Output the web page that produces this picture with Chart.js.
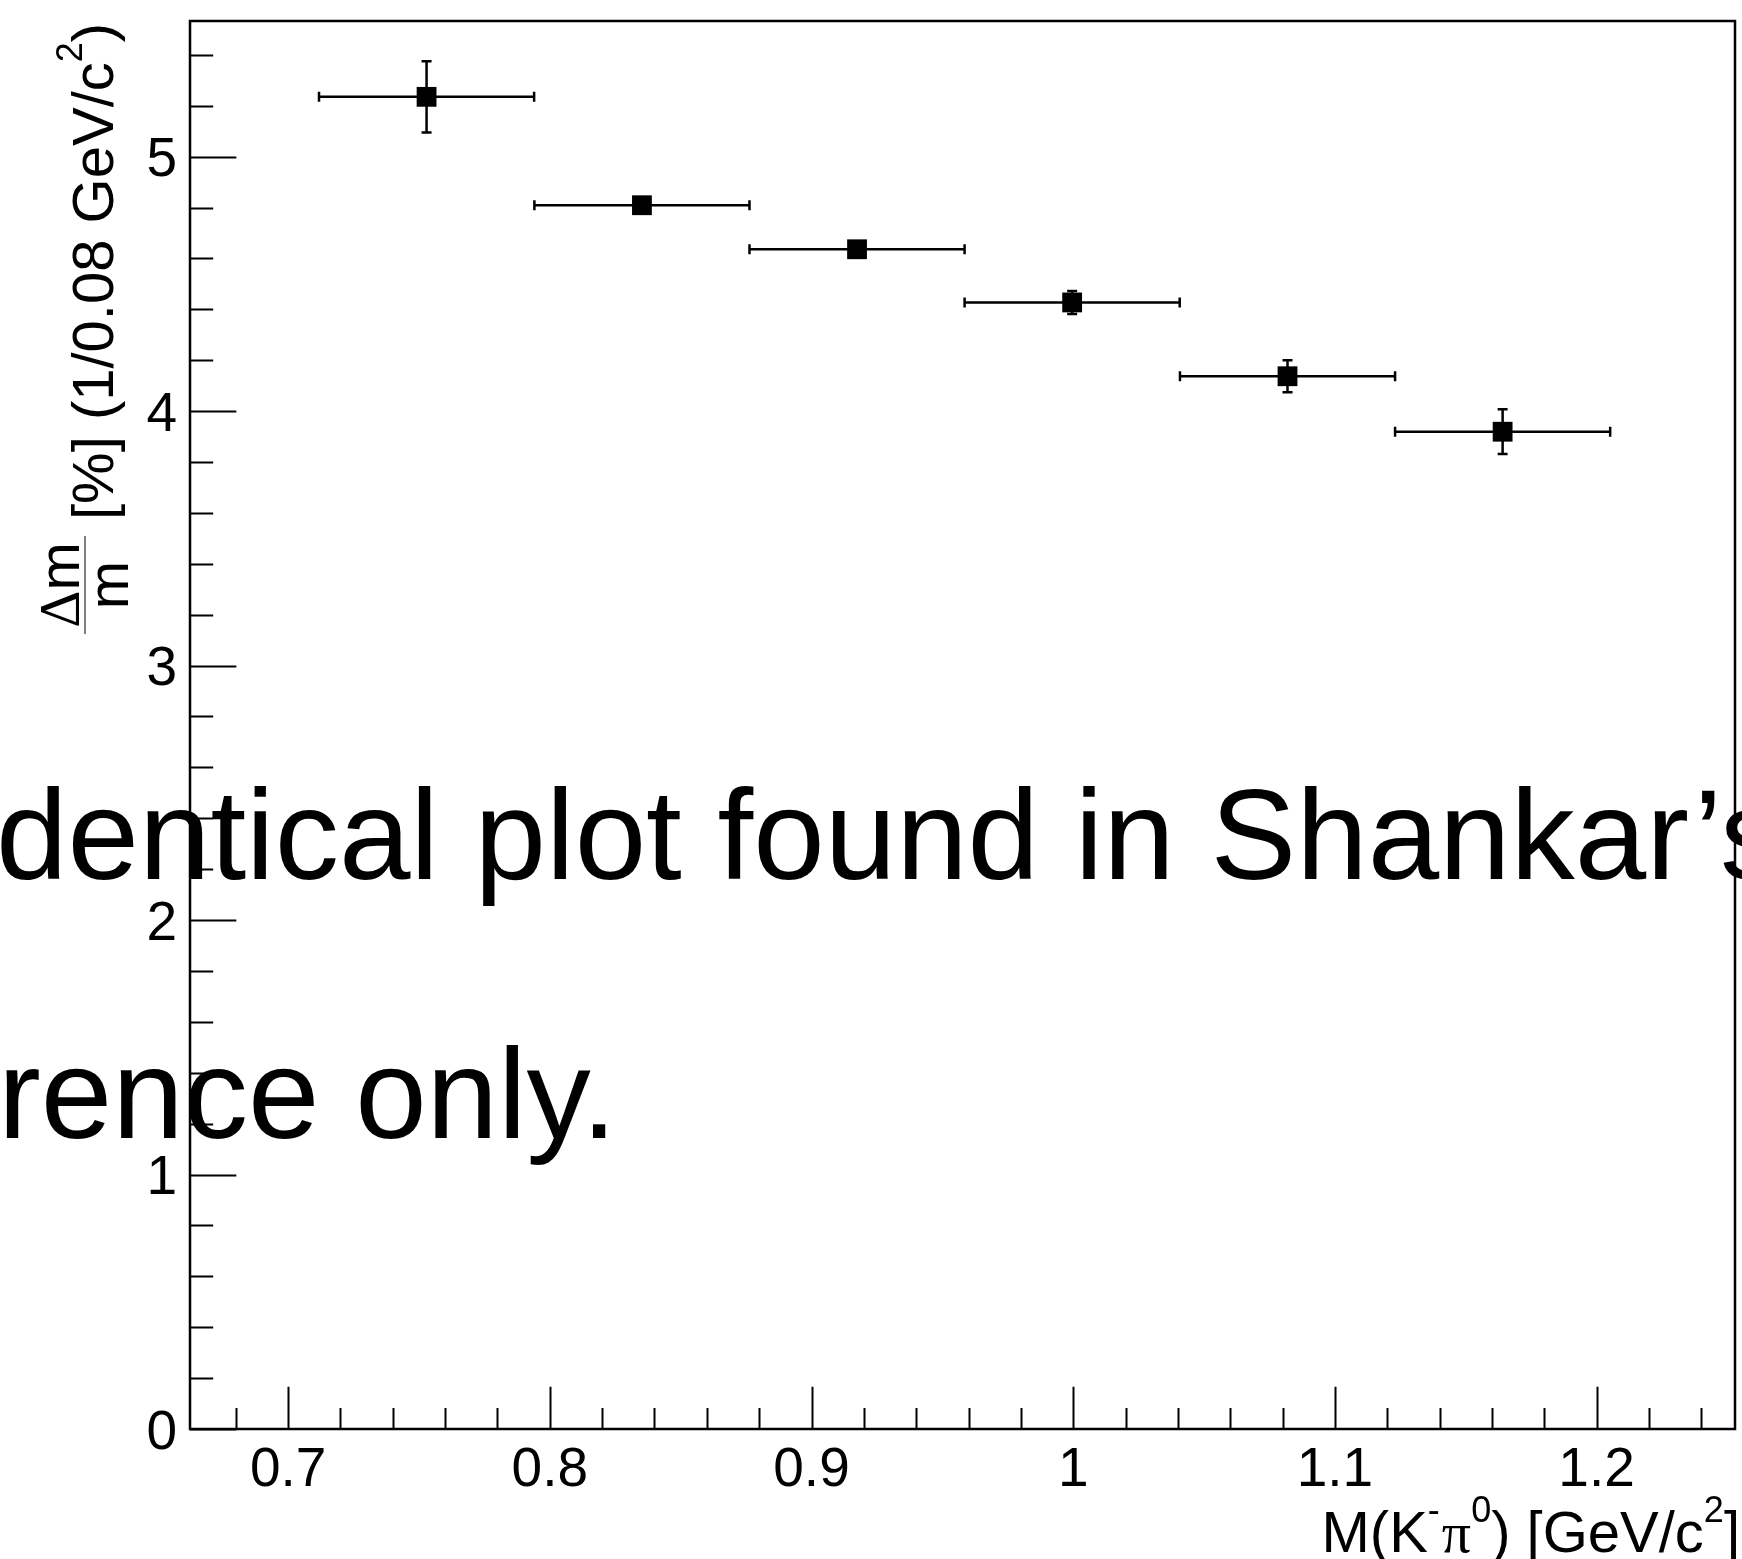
<!DOCTYPE html>
<html>
<head>
<meta charset="utf-8">
<script src="https://cdn.jsdelivr.net/npm/chart.js@4/dist/chart.umd.min.js"></script>
<style>
  html, body { margin: 0; padding: 0; background: #ffffff; }
  #wrap { width: 1742px; height: 1559px; position: relative; }
</style>
</head>
<body>
<div id="wrap"><canvas id="c" width="1742" height="1559"></canvas></div>
<script>
// Mass resolution per M(K- pi0) bin
const massCenters     = [0.7529, 0.8352, 0.9174, 0.9996, 1.0819, 1.1641];
const massHalfWidths  = [0.0411, 0.0411, 0.0411, 0.0411, 0.0411, 0.0411];
const resolution      = [5.235, 4.809, 4.636, 4.427, 4.137, 3.919];
const resolutionErrs  = [0.140, 0.025, 0.025, 0.045, 0.063, 0.088];

// Axis ranges and tick labels
const xRange = [0.6625, 1.2529];
const yRange = [0, 5.533];
const xMajorTicks = [0.7, 0.8, 0.9, 1.0, 1.1, 1.2];
const xTickLabels = ['0.7', '0.8', '0.9', '1', '1.1', '1.2'];
const yMajorTicks = [0, 1, 2, 3, 4, 5];
const yTickLabels = ['0', '1', '2', '3', '4', '5'];
const xMinorStep = 0.02;
const yMinorStep = 0.2;

// Watermark lines
const noteLines = ['dentical plot found in Shankar\u2019s', 'rence only.'];

const SANS = '"Liberation Sans", Arial, Helvetica, sans-serif';
const SERIF = '"Liberation Serif", "Times New Roman", serif';
const LABEL_PX = 55;
const TITLE_PX = 58;
const SUP_PX = 36;

function drawRich(ctx, parts, x, y) {
  let cx = x;
  for (const p of parts) {
    ctx.font = p.font;
    ctx.fillText(p.text, cx, y + (p.dy || 0));
    cx += ctx.measureText(p.text).width + (p.kern || 0);
  }
  return cx;
}
function richWidth(ctx, parts) {
  let w = 0;
  for (const p of parts) {
    ctx.font = p.font;
    w += ctx.measureText(p.text).width + (p.kern || 0);
  }
  return w;
}

// Error bars drawn beneath the markers
const errorBars = {
  id: 'errorBars',
  beforeDatasetsDraw(chart) {
    const { ctx, scales: { x, y } } = chart;
    ctx.save();
    ctx.strokeStyle = '#000';
    ctx.lineWidth = 2.5;
    const cap = 5;
    massCenters.forEach((m, i) => {
      const px = x.getPixelForValue(m);
      const py = y.getPixelForValue(resolution[i]);
      const x0 = x.getPixelForValue(m - massHalfWidths[i]);
      const x1 = x.getPixelForValue(m + massHalfWidths[i]);
      const y0 = y.getPixelForValue(resolution[i] - resolutionErrs[i]);
      const y1 = y.getPixelForValue(resolution[i] + resolutionErrs[i]);
      ctx.beginPath();
      ctx.moveTo(x0, py); ctx.lineTo(x1, py);
      ctx.moveTo(x0, py - cap); ctx.lineTo(x0, py + cap);
      ctx.moveTo(x1, py - cap); ctx.lineTo(x1, py + cap);
      ctx.moveTo(px, y0); ctx.lineTo(px, y1);
      ctx.moveTo(px - cap, y0); ctx.lineTo(px + cap, y0);
      ctx.moveTo(px - cap, y1); ctx.lineTo(px + cap, y1);
      ctx.stroke();
    });
    ctx.restore();
  }
};

// Frame, inward ticks, labels and titles
const frameAxes = {
  id: 'frameAxes',
  afterDraw(chart) {
    const { ctx, chartArea: a, scales: { x, y } } = chart;
    ctx.save();
    ctx.strokeStyle = '#000';
    ctx.fillStyle = '#000';

    // frame box
    ctx.lineWidth = 2.5;
    ctx.strokeRect(a.left, a.top, a.right - a.left, a.bottom - a.top);

    // ticks
    ctx.lineWidth = 2;
    const xMajLen = 0.03 * (a.bottom - a.top);
    const yMajLen = 0.03 * (a.right - a.left);
    ctx.beginPath();
    for (let k = Math.ceil(xRange[0] / xMinorStep); k * xMinorStep <= xRange[1]; k++) {
      const v = k * xMinorStep;
      const major = xMajorTicks.some(t => Math.abs(t - v) < 1e-6);
      const px = Math.round(x.getPixelForValue(v)) + 0.5;
      ctx.moveTo(px, a.bottom);
      ctx.lineTo(px, a.bottom - (major ? xMajLen : xMajLen / 2));
    }
    for (let k = Math.ceil(yRange[0] / yMinorStep); k * yMinorStep <= yRange[1]; k++) {
      const v = k * yMinorStep;
      const major = yMajorTicks.some(t => Math.abs(t - v) < 1e-6);
      const py = Math.round(y.getPixelForValue(v)) + 0.5;
      ctx.moveTo(a.left, py);
      ctx.lineTo(a.left + (major ? yMajLen : yMajLen / 2), py);
    }
    ctx.stroke();

    // tick labels
    ctx.font = LABEL_PX + 'px ' + SANS;
    ctx.textBaseline = 'alphabetic';
    ctx.textAlign = 'center';
    xMajorTicks.forEach((v, i) => {
      ctx.fillText(xTickLabels[i], x.getPixelForValue(v), a.bottom + 57);
    });
    ctx.textAlign = 'right';
    yMajorTicks.forEach((v, i) => {
      ctx.fillText(yTickLabels[i], a.left - 13, y.getPixelForValue(v) + 19.5);
    });

    // x-axis title, right aligned at the frame edge
    ctx.textAlign = 'left';
    const tf = TITLE_PX + 'px ' + SANS;
    const sf = SUP_PX + 'px ' + SANS;
    const xTitle = [
      { text: 'M(K', font: tf },
      { text: '-', font: sf, dy: -30, kern: 2 },
      { text: '\u03c0', font: TITLE_PX + 'px ' + SERIF },
      { text: '0', font: sf, dy: -30 },
      { text: ') [GeV/c', font: tf },
      { text: '2', font: sf, dy: -30 },
      { text: ']', font: tf }
    ];
    const xw = richWidth(ctx, xTitle);
    drawRich(ctx, xTitle, a.right + 5 - xw, a.bottom + 123);

    // y-axis title, rotated
    ctx.save();
    ctx.translate(113, 634);
    ctx.rotate(-Math.PI / 2);
    const fracLen = 98;
    ctx.lineWidth = 1.5;
    ctx.strokeStyle = '#555';
    ctx.beginPath();
    ctx.moveTo(0, -28); ctx.lineTo(fracLen, -28);
    ctx.stroke();
    const num = [
      { text: '\u0394', font: TITLE_PX + 'px ' + SERIF },
      { text: 'm', font: tf }
    ];
    const nw = richWidth(ctx, num);
    drawRich(ctx, num, fracLen / 2 - nw / 2, -34);
    ctx.font = tf;
    const dw = ctx.measureText('m').width;
    ctx.fillText('m', fracLen / 2 - dw / 2, 15);
    const yTitle = [
      { text: '[%] (1/0.08 GeV/c', font: tf },
      { text: '2', font: sf, dy: -31 },
      { text: ')', font: tf }
    ];
    drawRich(ctx, yTitle, 114, 0);
    ctx.restore();

    // watermark text
    ctx.font = '128.5px ' + SANS;
    ctx.textAlign = 'left';
    ctx.fillText(noteLines[0], -4, 879);
    ctx.fillText(noteLines[1], -2, 1138);

    ctx.restore();
  }
};

new Chart(document.getElementById('c'), {
  type: 'scatter',
  data: {
    datasets: [{
      data: massCenters.map((m, i) => ({ x: m, y: resolution[i] })),
      pointStyle: 'rect',
      pointRadius: 14,
      pointHoverRadius: 14,
      backgroundColor: '#000',
      borderColor: '#000',
      borderWidth: 0,
      showLine: false
    }]
  },
  options: {
    responsive: false,
    animation: false,
    events: [],
    layout: { autoPadding: false, padding: { left: 190, top: 21, right: 7, bottom: 130 } },
    scales: {
      x: { type: 'linear', min: xRange[0], max: xRange[1], display: false },
      y: { type: 'linear', min: yRange[0], max: yRange[1], display: false }
    },
    plugins: { legend: { display: false }, tooltip: { enabled: false } }
  },
  plugins: [errorBars, frameAxes]
});
</script>
</body>
</html>
